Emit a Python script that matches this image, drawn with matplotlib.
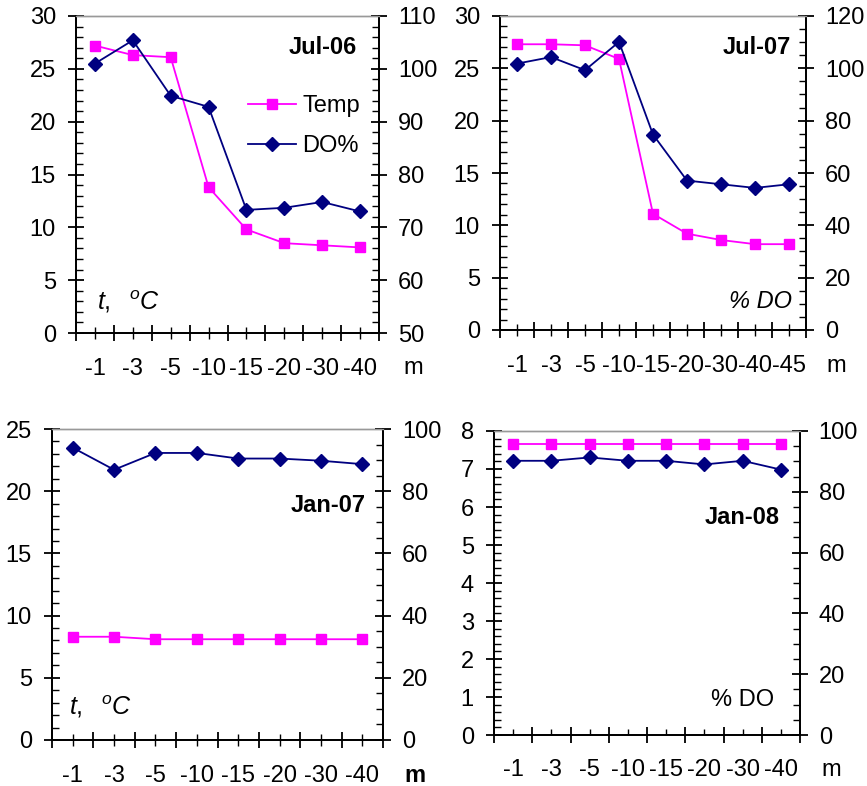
import matplotlib
matplotlib.use("Agg")
import matplotlib.pyplot as plt
from matplotlib.ticker import MultipleLocator, FixedLocator

plt.rcParams['font.family'] = ['Liberation Sans', 'DejaVu Sans']
plt.rcParams['font.size'] = 17
plt.rcParams['mathtext.fontset'] = 'custom'
plt.rcParams['mathtext.it'] = 'Liberation Sans:italic'
plt.rcParams['mathtext.rm'] = 'Liberation Sans'

# depth categories and values
depth_a = ['-1', '-3', '-5', '-10', '-15', '-20', '-30', '-40']
depth_b = ['-1', '-3', '-5', '-10', '-15', '-20', '-30', '-40', '-45']

jul06_temp = [27.2, 26.3, 26.1, 13.8, 9.8, 8.5, 8.3, 8.1]
jul06_do = [101.0, 105.4, 94.9, 92.8, 73.3, 73.7, 74.8, 73.0]

jul07_temp = [27.3, 27.3, 27.2, 25.9, 11.1, 9.2, 8.6, 8.2, 8.2]
jul07_do = [101.8, 104.3, 99.3, 110.1, 74.7, 57.1, 55.7, 54.3, 55.7]

jan07_temp = [8.3, 8.3, 8.1, 8.1, 8.1, 8.1, 8.1, 8.1]
jan07_do = [94.0, 86.9, 92.3, 92.3, 90.5, 90.5, 89.8, 88.7]

jan08_temp = [7.65, 7.65, 7.65, 7.65, 7.65, 7.65, 7.65, 7.65]
jan08_do = [90.2, 90.2, 91.3, 90.2, 90.2, 89.0, 90.2, 87.3]

W, H = 867, 786
fig = plt.figure(figsize=(W / 100, H / 100), dpi=100)

TEMP_C = '#FF00FF'
DO_C = '#000080'


def box(l, r, t, b):
    return [l / W, 1 - b / H, (r - l) / W, (b - t) / H]


def fpos(x, y):
    return x / W, 1 - y / H


def panel(rect, cats, temp, do, tlim, tmaj, tmin, dlim, dmaj, dmin, center_in=False):
    ax = fig.add_axes(rect)
    ax2 = ax.twinx()
    n = len(cats)
    x = list(range(n))
    l1, = ax.plot(x, temp, color=TEMP_C, marker='s', ms=7.5, lw=1.3, label='Temp', clip_on=False)
    l2, = ax2.plot(x, do, color=DO_C, marker='D', ms=7, lw=1.3, label='DO%', clip_on=False)
    ax.set_xlim(-0.5, n - 0.5)
    ax.set_ylim(*tlim)
    ax2.set_ylim(*dlim)
    ax.yaxis.set_major_locator(MultipleLocator(tmaj))
    ax.yaxis.set_minor_locator(MultipleLocator(tmin))
    ax2.yaxis.set_major_locator(MultipleLocator(dmaj))
    ax2.yaxis.set_minor_locator(MultipleLocator(dmin))
    ax.xaxis.set_major_locator(FixedLocator([i - 0.5 for i in range(n + 1)]))
    ax.xaxis.set_minor_locator(FixedLocator(x))
    ax.xaxis.set_major_formatter(plt.NullFormatter())
    ax.xaxis.set_minor_formatter(plt.FixedFormatter(cats))
    for a in (ax, ax2):
        for s in ('left', 'right', 'bottom'):
            a.spines[s].set_linewidth(1.3)
        a.spines['top'].set_color('#999999')
        a.spines['top'].set_linewidth(1.0)
    ax.tick_params(axis='y', which='major', direction='inout', length=11, width=1.3, pad=9)
    ax.tick_params(axis='y', which='minor', direction='in', length=5, width=1.0)
    ax2.tick_params(axis='y', which='major', direction='inout', length=11, width=1.3, pad=8)
    ax2.tick_params(axis='y', which='minor', direction='in', length=5, width=1.0)
    ax.tick_params(axis='x', which='major', direction='inout', length=11, width=1.3, labelbottom=False)
    if center_in:
        ax.tick_params(axis='x', which='minor', direction='in', length=4, width=1.0, pad=17)
    else:
        ax.tick_params(axis='x', which='minor', direction='inout', length=8, width=1.0, pad=14)
    return ax, ax2, l1, l2


# Jul-06
ax, ax2, l1, l2 = panel(box(76, 379, 16, 333), depth_a, jul06_temp, jul06_do,
                        (0, 30), 5, 1, (50, 110), 10, 2)
fig.text(*fpos(357, 47), 'Jul-06', ha='right', va='center', weight='bold')
fig.text(*fpos(97, 302), r'$t,\ \ ^{o}C$', ha='left', va='center', fontsize=18)
fig.text(*fpos(413, 368), 'm', ha='center', va='center')
fig.legend([l1, l2], ['Temp', 'DO%'], loc='center left', bbox_to_anchor=fpos(248, 126),
           frameon=False, handlelength=2.05, handletextpad=0.25, labelspacing=0.75,
           borderpad=0, borderaxespad=0, fontsize=17)

# Jul-07
ax, ax2, l1, l2 = panel(box(500, 806, 16, 330), depth_b, jul07_temp, jul07_do,
                        (0, 30), 5, 1, (0, 120), 20, 5)
fig.text(*fpos(791, 47), 'Jul-07', ha='right', va='center', weight='bold')
fig.text(*fpos(792, 302), '% DO', ha='right', va='center', style='italic')
fig.text(*fpos(836, 366), 'm', ha='center', va='center')

# Jan-07
ax, ax2, l1, l2 = panel(box(52, 383, 429, 740), depth_a, jan07_temp, jan07_do,
                        (0, 25), 5, 1, (0, 100), 20, 5)
fig.text(*fpos(366, 505), 'Jan-07', ha='right', va='center', weight='bold')
fig.text(*fpos(69, 707), r'$t,\ \ ^{o}C$', ha='left', va='center', fontsize=18)
fig.text(*fpos(415, 775), 'm', ha='center', va='center', weight='bold')

# Jan-08
ax, ax2, l1, l2 = panel(box(494, 800, 431, 735), depth_a, jan08_temp, jan08_do,
                        (0, 8), 1, 0.2, (0, 100), 20, 5, center_in=True)
fig.text(*fpos(780, 517), 'Jan-08', ha='right', va='center', weight='bold')
fig.text(*fpos(774, 700), '% DO', ha='right', va='center')
fig.text(*fpos(831, 770), 'm', ha='center', va='center')

fig.savefig('out.png', dpi=100)
